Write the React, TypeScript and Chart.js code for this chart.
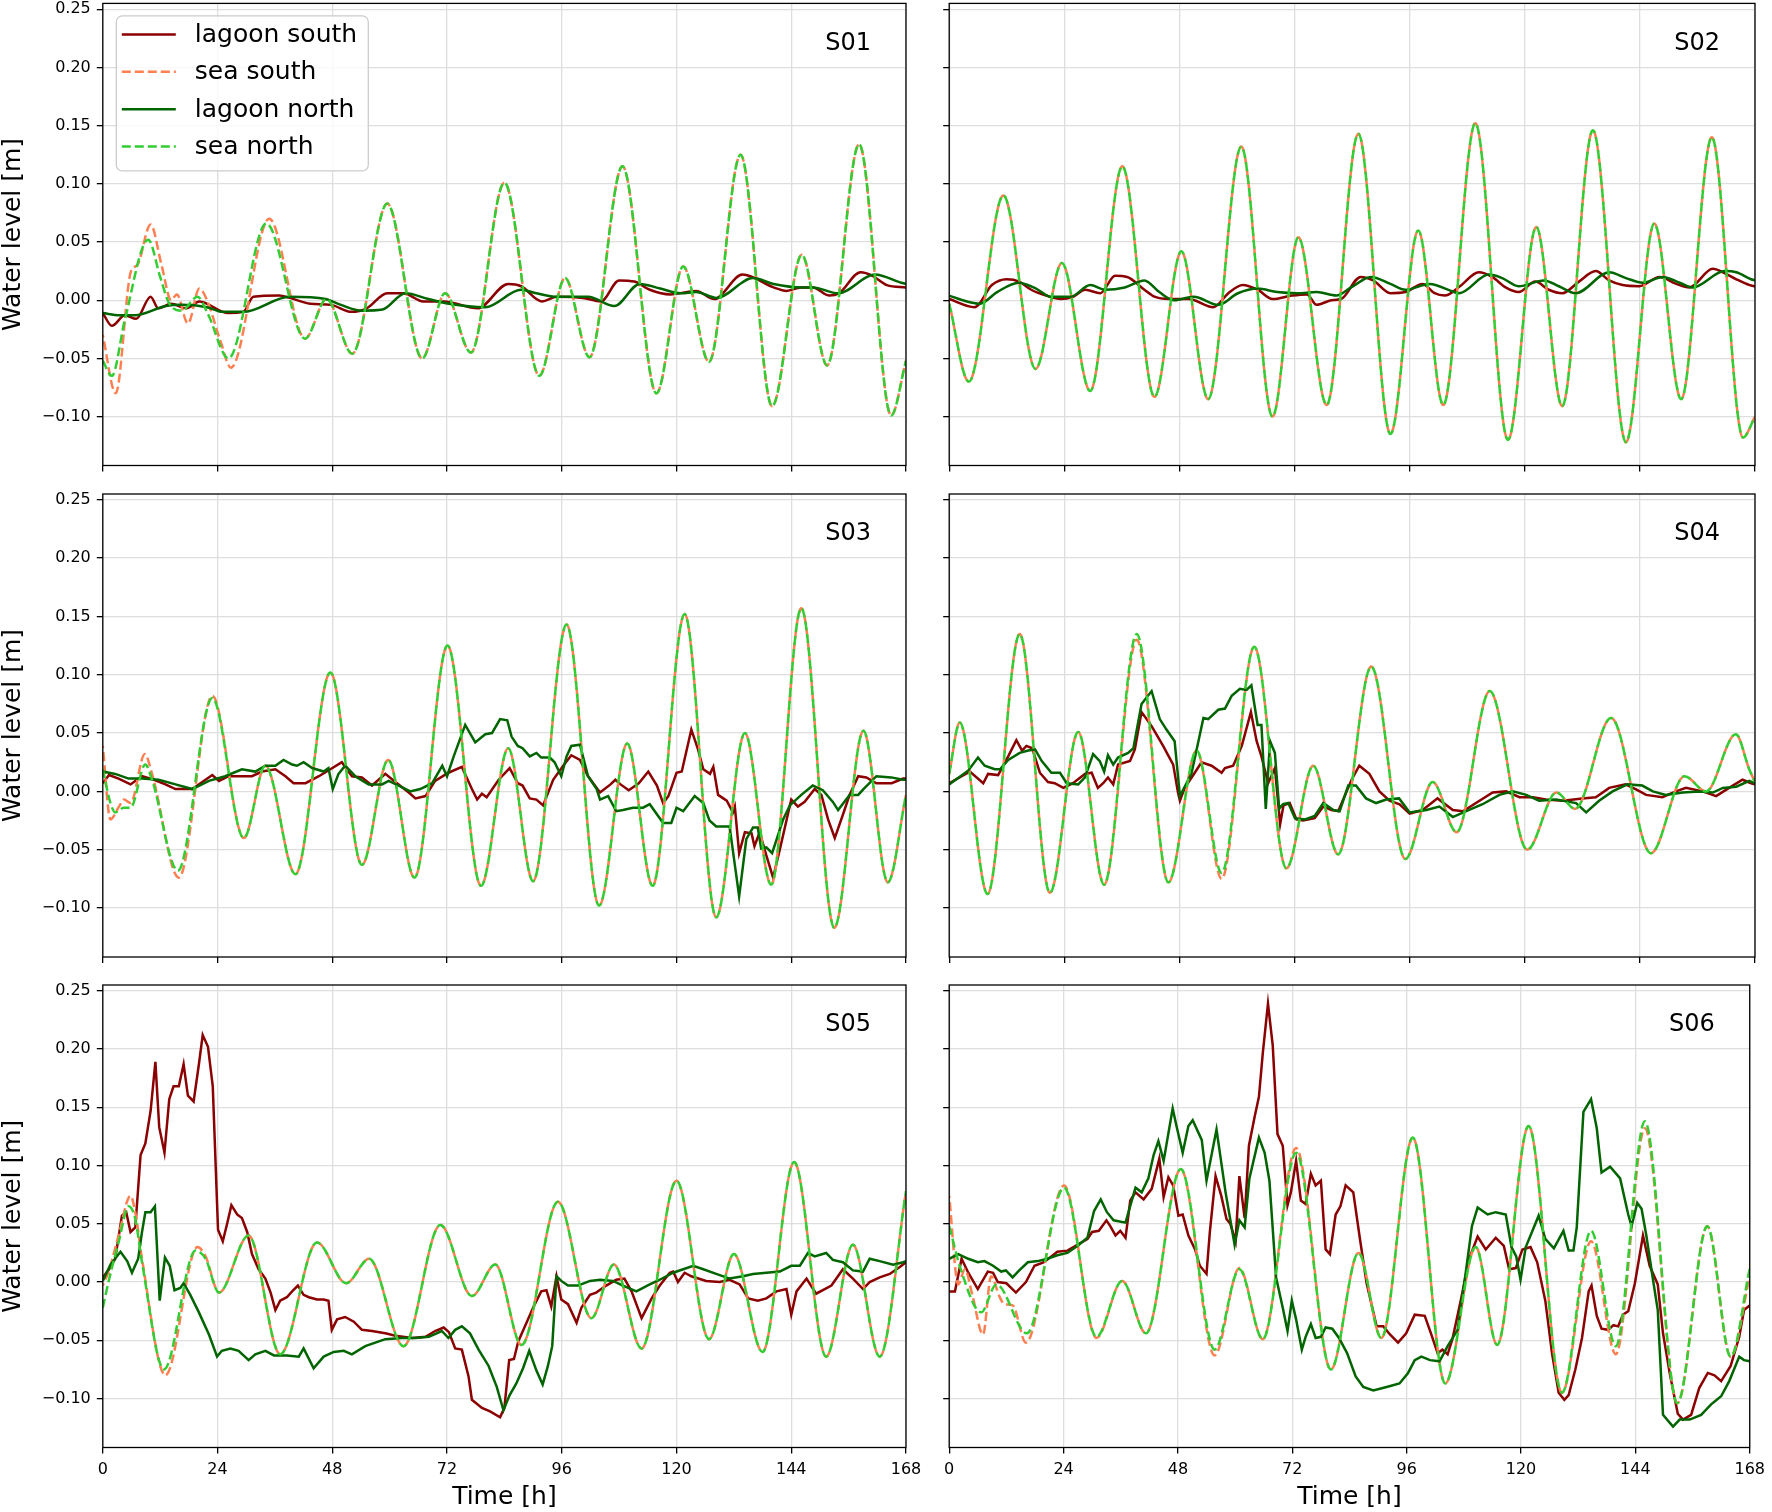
import { useEffect, useRef } from "react";
import { Chart, registerables } from "chart.js";

Chart.register(...registerables);

type Pt = [number, number]; // [hour, water level in m]

const hourTicks = [0, 24, 48, 72, 96, 120, 144, 168];
const levelTicks = [-0.1, -0.05, 0, 0.05, 0.1, 0.15, 0.2, 0.25];
const seriesLabels = ["lagoon south", "sea south", "lagoon north", "sea north"];

// ---- S01 ----
const s01LagoonSouth: Pt[] = [[0,-0.011],[1.9,-0.022],[4.6,-0.013],[7,-0.016],[10,0.003],[11.6,-0.007],[14.3,-0.003],[17.5,-0.007],[20.2,-0.001],[26.2,-0.011],[29.4,-0.01],[31.5,0.003],[36.9,0.004],[39.1,0.002],[43.4,-0.003],[47.7,-0.004],[52,-0.01],[55.2,-0.007],[59.5,0.006],[62.8,0.006],[67.1,-0.001],[71.4,-0.001],[78.4,-0.007],[84.8,0.014],[87.5,0.012],[91.8,-0.001],[95,0.003],[100.4,0.002],[104.2,-0.001],[108,0.017],[111.2,0.016],[114.4,0.009],[118.7,0.005],[124.1,0.008],[127.9,0.001],[133.8,0.022],[140.3,0.011],[143,0.008],[146,0.011],[148.5,0.011],[152,0.004],[154,0.006],[158.5,0.024],[161,0.021],[164,0.013],[168,0.011]];
const s01SeaSouth: Pt[] = [[0,-0.03],[2.7,-0.08],[5.9,0.025],[7.2,0.03],[10,0.065],[12.3,0.03],[14.3,0],[15.5,0.005],[17.8,-0.02],[20.2,0.01],[21.8,0],[24.6,-0.035],[26.8,-0.058],[34.8,0.07],[42.3,-0.033],[46.8,0.001],[52.2,-0.046],[59.5,0.083],[66.8,-0.05],[71.6,0.006],[77,-0.045],[84,0.101],[91.3,-0.065],[96.7,0.019],[101.8,-0.049],[108.7,0.115],[115.8,-0.08],[121.4,0.029],[126.8,-0.053],[133.4,0.125],[140,-0.091],[146.2,0.039],[151.5,-0.056],[158.2,0.134],[164.9,-0.099],[168,-0.052]];
const s01LagoonNorth: Pt[] = [[0,-0.011],[3.5,-0.013],[6.7,-0.013],[13.2,-0.005],[16.4,-0.004],[21.8,-0.006],[25,-0.01],[29.4,-0.01],[39.1,0.003],[46.6,0.001],[49.8,-0.004],[54.2,-0.009],[58.5,-0.008],[63.3,0.006],[68.1,0.001],[72.4,-0.003],[80,-0.006],[87.5,0.009],[90.7,0.006],[95,0.003],[101.5,0.003],[107,-0.005],[112.3,0.014],[116.6,0.01],[120.9,0.006],[124.1,0.007],[128.4,0.002],[136,0.019],[140.3,0.014],[146.2,0.011],[148.5,0.011],[153.8,0.006],[161.5,0.022],[167,0.015],[168,0.014]];
const s01SeaNorth: Pt[] = [[0,-0.052],[1.9,-0.065],[4.6,-0.017],[9.5,0.052],[12,0.02],[13.8,-0.002],[16.5,-0.009],[19.8,0.003],[22,-0.012],[26.3,-0.05],[34.2,0.066],[42.3,-0.033],[46.8,0.001],[52.2,-0.046],[59.5,0.083],[66.8,-0.05],[71.6,0.006],[77,-0.045],[84,0.101],[91.3,-0.065],[96.7,0.019],[101.8,-0.049],[108.7,0.115],[115.8,-0.08],[121.4,0.029],[126.8,-0.053],[133.4,0.125],[140,-0.091],[146.2,0.039],[151.5,-0.056],[158.2,0.134],[164.9,-0.099],[168,-0.052]];

// ---- S02 ----
const s02LagoonSouth: Pt[] = [[0,0.001],[5.3,-0.006],[8.9,0.013],[12,0.018],[14.6,0.016],[17.1,0.009],[20.2,0.004],[23.3,0.001],[25.8,0.003],[28.4,0.009],[31.5,0.006],[34.6,0.021],[37.1,0.02],[40.7,0.009],[42.8,0.003],[45.8,0.001],[49.9,0.001],[55.1,-0.006],[58.2,0.006],[61.2,0.013],[64.3,0.009],[67.4,0.001],[71.5,0.004],[74.6,0.005],[76.6,-0.004],[79.7,0],[81.7,0.001],[85.8,0.02],[88.4,0.017],[92,0.006],[95.1,0.007],[98.7,0.014],[101.2,0.006],[103.3,0.004],[106.5,0.012],[110.4,0.024],[113.2,0.02],[116,0.011],[118.7,0.007],[122.2,0.016],[125,0.009],[127.8,0.006],[131.3,0.016],[134.8,0.025],[137.6,0.017],[140.4,0.013],[143.9,0.012],[148.1,0.02],[151.6,0.014],[154.3,0.011],[159.2,0.027],[161.3,0.024],[164.1,0.018],[166.9,0.013],[168,0.012]];
const s02SeaSouth: Pt[] = [[0,-0.003],[4.1,-0.07],[11.3,0.09],[18,-0.059],[23.5,0.032],[29.4,-0.078],[36.1,0.115],[42.8,-0.083],[48.4,0.042],[54,-0.085],[60.9,0.132],[67.4,-0.1],[72.8,0.054],[78.7,-0.09],[85.3,0.143],[92,-0.115],[97.8,0.06],[103,-0.09],[109.7,0.152],[116.5,-0.12],[122.4,0.063],[127.8,-0.091],[134.2,0.146],[141.1,-0.122],[147,0.066],[152.6,-0.085],[159,0.14],[165.5,-0.118],[168,-0.1]];
const s02LagoonNorth: Pt[] = [[0,0.004],[2.8,0],[6.4,-0.003],[10,0.007],[14.5,0.015],[18.1,0.01],[21.2,0.003],[25.3,0.003],[29.4,0.013],[32.5,0.009],[36.6,0.011],[40.7,0.017],[43.8,0.007],[46.9,0],[51,0.003],[56.1,-0.004],[60.2,0.006],[64.3,0.01],[68.4,0.007],[72.5,0.006],[76.6,0.007],[80.7,0.004],[83.8,0.011],[87.9,0.02],[92,0.014],[95.1,0.009],[100.2,0.014],[104.6,0.008],[106.3,0.006],[112.5,0.022],[115.3,0.019],[118.7,0.012],[124,0.017],[127.1,0.012],[130.6,0.006],[137.6,0.024],[141.1,0.019],[144.6,0.015],[148.8,0.02],[152.3,0.015],[155,0.011],[161.7,0.025],[164.1,0.024],[167.2,0.018],[168,0.017]];
const s02SeaNorth: Pt[] = [[0,-0.003],[4.1,-0.07],[11.3,0.09],[18,-0.059],[23.5,0.032],[29.4,-0.078],[36.1,0.115],[42.8,-0.083],[48.4,0.042],[54,-0.085],[60.9,0.132],[67.4,-0.1],[72.8,0.054],[78.7,-0.09],[85.3,0.143],[92,-0.115],[97.8,0.06],[103,-0.09],[109.7,0.152],[116.5,-0.12],[122.4,0.063],[127.8,-0.091],[134.2,0.146],[141.1,-0.122],[147,0.066],[152.6,-0.085],[159,0.14],[165.5,-0.118],[168,-0.1]];

// ---- S03 ----
const s03LagoonSouth: Pt[] = [[0,0.007],[1.3,0.014],[3.3,0.011],[5.8,0.006],[8.2,0.013],[10.7,0.01],[13.1,0.006],[15.2,0.002],[18.7,0.002],[22.9,0.014],[24.3,0.009],[26.3,0.013],[29.1,0.013],[31.2,0.013],[33.3,0.017],[36.1,0.019],[38.2,0.013],[39.9,0.007],[42.4,0.007],[45.2,0.013],[47.6,0.019],[50,0.025],[52.1,0.013],[54.2,0.012],[56.3,0.005],[59.1,0.015],[61.2,0.008],[64,-0.001],[65.4,-0.006],[67.5,-0.004],[69.5,0.009],[72.3,0.016],[75.1,0.021],[77.2,0.002],[78.3,-0.007],[79.3,-0.002],[80.3,-0.005],[82.8,0.01],[85.1,0.02],[86.8,0.007],[87.8,0.005],[89.3,-0.006],[90.7,-0.007],[92.1,-0.012],[94.2,0.01],[96.3,0.022],[98,0.031],[99.8,0.027],[101.5,0.013],[104,-0.001],[106.2,0.006],[107.2,0.01],[108.3,0.006],[110,0.001],[112.1,0.007],[114.1,0.017],[115.9,0.005],[117.2,-0.01],[118.3,-0.004],[120,0.016],[121.1,0.017],[123.1,0.053],[124.5,0.036],[125.6,0.019],[127,0.015],[127.7,0.021],[128.7,-0.003],[130.5,-0.008],[131.8,-0.018],[132.2,-0.013],[133.1,-0.053],[134.3,-0.035],[135.7,-0.036],[136.3,-0.047],[137.4,-0.035],[138.8,-0.055],[140.2,-0.074],[141.6,-0.05],[144,-0.007],[145.4,-0.013],[146.8,-0.009],[148.9,0.002],[150.3,-0.003],[151.7,-0.024],[153.1,-0.04],[154.8,-0.02],[156.2,-0.003],[158,0.013],[159.7,0.012],[161.8,0.007],[165,0.007],[167.4,0.011],[168,0.011]];
const s03SeaSouth: Pt[] = [[0,0.039],[1.6,-0.024],[3.4,-0.013],[4.4,-0.007],[5.8,-0.01],[8.8,0.032],[10.3,0.015],[15.9,-0.074],[22.9,0.082],[29.5,-0.04],[34,0.022],[40.3,-0.071],[47.6,0.102],[54.2,-0.063],[59.7,0.027],[65.2,-0.074],[72.1,0.125],[79.1,-0.081],[84.8,0.037],[90,-0.077],[97,0.143],[103.8,-0.098],[109.7,0.041],[115,-0.081],[121.7,0.152],[128.3,-0.108],[134.3,0.05],[139.8,-0.08],[146.1,0.157],[153,-0.117],[159.1,0.052],[164.2,-0.078],[168,-0.003]];
const s03LagoonNorth: Pt[] = [[0,0.017],[2.6,0.015],[5.4,0.011],[8.2,0.011],[11.7,0.01],[15.2,0.006],[18.7,0.002],[22.2,0.009],[25.6,0.013],[29.1,0.019],[31.9,0.017],[34,0.022],[36.1,0.022],[37.8,0.027],[39.6,0.023],[40.6,0.022],[42,0.025],[43.8,0.02],[46.2,0.017],[47.2,0.02],[48.1,0.002],[49.3,0.015],[50.7,0.022],[52.8,0.013],[55.6,0.006],[58.4,0.006],[59.8,0.009],[61.9,0.005],[64.3,0],[66.4,0.002],[68.9,0.007],[71,0.022],[72,0.013],[73.4,0.03],[75.8,0.057],[77.9,0.042],[80,0.049],[81.4,0.05],[83.1,0.062],[84.6,0.061],[85.5,0.047],[86.8,0.039],[87.8,0.037],[89.3,0.03],[90.7,0.033],[91.7,0.029],[93.5,0.029],[94.5,0.025],[95.9,0.013],[97,0.03],[98,0.039],[99.8,0.04],[101.5,0.013],[103.3,0.002],[104,-0.007],[105.7,-0.004],[107.4,-0.017],[108.8,-0.016],[110.9,-0.014],[113,-0.014],[114.4,-0.011],[117.2,-0.027],[118.9,-0.027],[120,-0.014],[121.4,-0.017],[123.8,-0.004],[125.6,-0.01],[126.9,-0.025],[128.3,-0.03],[131.1,-0.03],[133.1,-0.09],[134.6,-0.041],[136,-0.031],[137,-0.031],[137.7,-0.049],[138.8,-0.048],[140,-0.053],[142.3,-0.024],[143.7,-0.012],[146.1,-0.003],[148.5,0.005],[150.6,0.001],[152.7,-0.009],[153.8,-0.016],[156.2,-0.003],[158,-0.003],[159.1,0.002],[161.8,0.013],[164.9,0.012],[167.4,0.01],[168,0.01]];
const s03SeaNorth: Pt[] = [[0,0.019],[1.6,-0.01],[2.6,-0.018],[4.4,-0.014],[5.8,-0.014],[8.9,0.023],[10.3,0.01],[15.7,-0.068],[22.9,0.08],[29.5,-0.04],[34,0.022],[40.3,-0.071],[47.6,0.102],[54.2,-0.063],[59.7,0.027],[65.2,-0.074],[72.1,0.125],[79.1,-0.081],[84.8,0.037],[90,-0.077],[97,0.143],[103.8,-0.098],[109.7,0.041],[115,-0.081],[121.7,0.152],[128.3,-0.108],[134.3,0.05],[139.8,-0.08],[146.1,0.157],[153,-0.117],[159.1,0.052],[164.2,-0.078],[168,-0.003]];

// ---- S04 ----
const s04LagoonSouth: Pt[] = [[0,0.007],[4.3,0.017],[7.1,0.007],[8.1,0.015],[10.2,0.014],[12.3,0.03],[14,0.044],[15.2,0.035],[16.1,0.039],[17.3,0.037],[18.9,0.016],[20.6,0.008],[22,0.007],[23.8,0.003],[25.8,0.007],[28.3,0.015],[29.7,0.016],[31,0.003],[32.1,0.007],[33.1,0.012],[34.2,0.006],[35.2,0.023],[37.7,0.026],[38.7,0.036],[40.1,0.068],[42.2,0.056],[44.6,0.039],[46.7,0.023],[47.7,-0.001],[48.1,-0.008],[49.1,0.003],[51.2,0.016],[52.6,0.025],[54.7,0.022],[56.8,0.016],[57.5,0.02],[59.2,0.022],[61,0.039],[62.9,0.068],[64.1,0.043],[65.1,0.03],[66.5,0.007],[67.9,0.02],[69,-0.028],[69.7,-0.012],[71,-0.01],[72.4,-0.024],[73.8,-0.025],[76.2,-0.023],[78,-0.013],[79.7,-0.016],[81.1,-0.017],[83.9,0.01],[85.5,0.022],[87.6,0.015],[89.7,0],[91.8,-0.008],[93.9,-0.011],[96,-0.019],[98.7,-0.016],[101.8,-0.006],[105,-0.016],[107.1,-0.017],[113.3,-0.001],[116.1,0],[118.9,-0.005],[121.7,-0.005],[124.4,-0.007],[127.9,-0.008],[132,-0.006],[134.8,-0.005],[137.6,0.003],[141,0.006],[143.1,0.002],[145.3,-0.003],[148.7,-0.005],[151.5,0],[153.6,0.003],[157.1,0],[159.9,-0.004],[162.6,0.003],[165.4,0.01],[167.2,0.007],[168,0.006]];
const s04SeaSouth: Pt[] = [[0,0.015],[2.2,0.059],[8,-0.088],[14.7,0.135],[21,-0.087],[26.9,0.051],[32.3,-0.08],[39.1,0.13],[45.7,-0.078],[51.6,0.035],[56.8,-0.075],[63.6,0.124],[70.3,-0.066],[75.9,0.022],[81.1,-0.054],[88,0.107],[95.1,-0.058],[100.8,0.008],[105.8,-0.035],[112.7,0.086],[120.5,-0.05],[126.6,-0.001],[130.5,-0.015],[138,0.063],[146.3,-0.053],[153.3,0.013],[157.8,0],[164,0.049],[166.8,0.019],[168,0.008]];
const s04LagoonNorth: Pt[] = [[0,0.006],[4,0.018],[6,0.029],[7.4,0.022],[9.5,0.019],[10.6,0.019],[12.3,0.027],[14.7,0.033],[16.5,0.035],[17.9,0.036],[19.3,0.026],[21.3,0.016],[23.1,0.016],[24.5,0.007],[26.9,0.006],[28.3,0.012],[30,0.032],[31.4,0.026],[32.3,0.017],[33.1,0.031],[34.2,0.023],[35.2,0.029],[37.3,0.033],[38.4,0.037],[40.1,0.075],[42.2,0.086],[43.9,0.062],[45.3,0.053],[47,0.043],[48.1,-0.004],[50.5,0.015],[53,0.063],[54,0.062],[56.1,0.07],[57.5,0.071],[58.9,0.082],[60.6,0.088],[62,0.087],[63,0.091],[64.3,0.057],[65.1,0.057],[66,-0.015],[66.9,0.043],[67.9,0.033],[68.8,-0.015],[69.6,-0.011],[70.7,-0.01],[72.1,-0.023],[74.2,-0.024],[76.2,-0.021],[78,-0.01],[80.1,-0.016],[81.4,-0.017],[83.2,0.005],[84.8,0.005],[86.9,-0.006],[89,-0.01],[91.1,-0.007],[93.8,-0.006],[96,-0.018],[99.5,-0.016],[102.2,-0.013],[105,-0.022],[107.8,-0.017],[111.2,-0.011],[114.7,-0.003],[117.5,0],[120.3,-0.003],[123,-0.008],[126.5,-0.007],[130.7,-0.01],[132.8,-0.018],[135.5,-0.008],[138.3,0],[141.4,0.006],[144.5,0.005],[146.7,0],[149.4,-0.003],[152.9,-0.001],[156.4,0],[159.2,-0.001],[161.3,0.003],[164.1,0.004],[166.8,0.009],[168,0.007]];
const s04SeaNorth: Pt[] = [[0,0.015],[2.2,0.059],[8,-0.088],[14.7,0.135],[21,-0.087],[26.9,0.051],[32.3,-0.08],[39.1,0.135],[45.7,-0.078],[51.6,0.035],[56.8,-0.07],[63.6,0.124],[70.3,-0.066],[75.9,0.022],[81.1,-0.054],[88,0.107],[95.1,-0.058],[100.8,0.008],[105.8,-0.035],[112.7,0.086],[120.5,-0.05],[126.6,-0.001],[130.5,-0.015],[138,0.063],[146.3,-0.053],[153.3,0.013],[157.8,0],[164,0.049],[166.8,0.019],[168,0.008]];

// ---- S05 ----
const s05LagoonSouth: Pt[] = [[0,0.004],[1.3,0.011],[2.6,0.02],[4,0.057],[4.9,0.06],[5.8,0.043],[6.8,0.047],[7.9,0.109],[8.9,0.119],[10,0.147],[11,0.189],[11.8,0.133],[12.9,0.111],[13.9,0.157],[14.8,0.168],[15.9,0.168],[16.9,0.187],[17.8,0.16],[19,0.155],[20.1,0.187],[20.9,0.212],[22,0.202],[23,0.168],[24.1,0.045],[25.1,0.035],[26,0.05],[26.9,0.066],[28.1,0.058],[29.1,0.055],[30.2,0.043],[31.2,0.024],[32.6,0.011],[34,0.003],[35.1,-0.009],[36.1,-0.024],[37.1,-0.016],[38.5,-0.013],[39.6,-0.008],[40.8,-0.003],[42,-0.011],[43.1,-0.013],[44.8,-0.015],[46.2,-0.015],[47.2,-0.016],[47.9,-0.041],[49,-0.032],[50.7,-0.03],[52.5,-0.034],[54.2,-0.041],[56.3,-0.042],[59.1,-0.044],[61.2,-0.046],[64.7,-0.048],[67.5,-0.047],[69.5,-0.042],[71.3,-0.039],[72.4,-0.043],[73.7,-0.057],[75.1,-0.058],[76.5,-0.081],[77.2,-0.101],[79.3,-0.108],[81,-0.111],[83.1,-0.116],[84,-0.108],[85,-0.067],[86,-0.066],[86.9,-0.051],[88.3,-0.038],[90,-0.022],[91.7,-0.008],[92.8,-0.007],[93.8,-0.021],[94.9,0.005],[95.9,-0.015],[97.3,-0.019],[99.1,-0.035],[100.1,-0.022],[101.9,-0.011],[103.2,-0.009],[105.3,-0.003],[107.4,0.002],[109.1,0.003],[110.6,-0.008],[112.7,-0.031],[114.8,-0.014],[116.5,-0.003],[118.6,0.008],[119.3,0.009],[120.3,0],[121.7,0.008],[123.1,0.005],[126.2,0.001],[129,0],[131.1,0.002],[133.2,-0.002],[135,-0.014],[137,-0.016],[138.8,-0.014],[140.9,-0.008],[143,-0.006],[144,-0.028],[145.1,-0.008],[147.2,0.003],[149.2,-0.01],[151,-0.006],[152.4,-0.003],[154.8,0.011],[156.9,0.003],[159,-0.006],[160.4,0],[162.5,0.004],[164.6,0.007],[166.7,0.013],[168,0.017]];
const s05SeaSouth: Pt[] = [[0,-0.003],[1.3,0.01],[3.3,0.04],[5.8,0.074],[7,0.055],[8.2,0.02],[13.1,-0.08],[19.8,0.03],[21.5,0.022],[24.3,-0.009],[30.5,0.04],[37.1,-0.062],[44.8,0.034],[50.9,-0.001],[55.7,0.02],[62.9,-0.055],[70.6,0.049],[77.2,-0.012],[82.1,0.015],[87.6,-0.054],[95.2,0.069],[102.2,-0.031],[106.9,0.015],[112.7,-0.057],[120,0.087],[126.8,-0.049],[132,0.024],[138,-0.06],[144.6,0.103],[151.3,-0.064],[156.9,0.032],[162.5,-0.064],[168,0.078]];
const s05LagoonNorth: Pt[] = [[0,0.001],[1.6,0.015],[3.7,0.026],[5.1,0.018],[6.1,0.008],[7.4,0.02],[8.2,0.043],[8.9,0.06],[10,0.06],[10.9,0.065],[11.9,-0.016],[13,0.021],[14,0.014],[15,-0.007],[16.2,-0.005],[16.9,-0.001],[18.3,-0.011],[20.1,-0.026],[22.2,-0.045],[23.9,-0.064],[24.9,-0.059],[26.7,-0.057],[28.4,-0.059],[30.5,-0.067],[31.9,-0.062],[34,-0.059],[35.8,-0.063],[38.5,-0.063],[41,-0.064],[42,-0.057],[44.1,-0.074],[46.2,-0.064],[48.3,-0.06],[50.4,-0.059],[52.1,-0.062],[54.9,-0.055],[57,-0.052],[59.1,-0.049],[62.6,-0.048],[65.4,-0.048],[68.2,-0.047],[70.9,-0.042],[72.3,-0.048],[73.7,-0.041],[75.1,-0.038],[76.8,-0.044],[78.6,-0.058],[80.7,-0.072],[82.4,-0.09],[83.8,-0.11],[85.1,-0.097],[86.5,-0.087],[87.9,-0.074],[89.2,-0.059],[90.7,-0.076],[92,-0.088],[93.1,-0.072],[94,-0.055],[94.9,0.005],[95.9,0.001],[97.3,-0.003],[99.4,-0.003],[101.9,0.001],[104,0.002],[106.7,0.001],[108.8,-0.003],[111.6,-0.008],[114.4,-0.002],[116.5,0.002],[119.3,0.008],[121.4,0.011],[123.5,0.014],[125.6,0.011],[128.3,0.007],[131.1,0.003],[133.9,0.005],[136,0.007],[138.8,0.008],[141.6,0.009],[144,0.014],[145.8,0.014],[147.5,0.025],[148.9,0.022],[151.3,0.025],[152.7,0.019],[154.8,0.017],[156.9,0.01],[159,0.009],[160.4,0.02],[162.5,0.018],[165.3,0.015],[167.4,0.017],[168,0.018]];
const s05SeaNorth: Pt[] = [[0,-0.022],[1.3,0.002],[3.3,0.034],[5.4,0.065],[6.8,0.054],[8.2,0.017],[12.8,-0.075],[19.4,0.027],[21.5,0.02],[24.3,-0.009],[30.5,0.04],[37.1,-0.062],[44.8,0.034],[50.9,-0.001],[55.7,0.02],[62.9,-0.055],[70.6,0.049],[77.2,-0.012],[82.1,0.015],[87.6,-0.054],[95.2,0.069],[102.2,-0.031],[106.9,0.015],[112.7,-0.057],[120,0.087],[126.8,-0.049],[132,0.024],[138,-0.06],[144.6,0.103],[151.3,-0.064],[156.9,0.032],[162.5,-0.064],[168,0.078]];

// ---- S06 ----
const s06LagoonSouth: Pt[] = [[0,-0.008],[1.2,-0.008],[2.6,0.02],[4,0.008],[6,-0.006],[8.1,0.009],[9.2,0.008],[10.2,0],[12,-0.001],[14,-0.009],[16.1,0],[17.9,0.014],[19.9,0.017],[22.7,0.026],[24.8,0.027],[26.9,0.032],[29,0.037],[30,0.043],[31.4,0.044],[33,0.053],[33.8,0.048],[34.9,0.04],[35.9,0.044],[37,0.038],[38,0.07],[39.1,0.077],[40.8,0.071],[42.5,0.08],[44.1,0.106],[45,0.073],[46,0.09],[47,0.083],[48.1,0.057],[49,0.058],[50.2,0.04],[51.6,0.028],[52.6,0.014],[54,0.007],[54.7,0.043],[55.9,0.091],[57.1,0.074],[58.2,0.054],[59,0.05],[60.1,0.035],[60.9,0.091],[62,0.055],[62.9,0.117],[64.1,0.142],[65,0.159],[65.8,0.196],[66.9,0.239],[67.9,0.203],[68.9,0.127],[70,0.117],[71,0.066],[71.7,0.077],[72.8,0.104],[73.8,0.07],[74.8,0.067],[75.9,0.093],[76.9,0.083],[78,0.087],[79,0.028],[79.9,0.024],[81.1,0.058],[82.1,0.065],[83.2,0.083],[84.8,0.077],[86.2,0.037],[87.6,-0.001],[89.7,-0.038],[91.1,-0.038],[92.5,-0.045],[94.2,-0.052],[95.9,-0.044],[97.7,-0.028],[99.8,-0.029],[101.1,-0.044],[102.5,-0.061],[103.5,-0.058],[104.6,-0.062],[105.6,-0.049],[107.4,-0.015],[109.1,0.02],[110.9,0.039],[112.6,0.028],[114.7,0.038],[116.4,0.031],[117.5,0.011],[118.9,0.012],[120.3,0.028],[122,0.03],[123.4,0.017],[125.1,-0.016],[126.5,-0.061],[127.9,-0.095],[129.1,-0.101],[130,-0.097],[131.4,-0.075],[132.8,-0.048],[134.2,-0.008],[134.8,-0.003],[135.9,-0.029],[136.9,-0.04],[138.3,-0.041],[139.4,-0.037],[140.4,-0.038],[141.4,-0.028],[142.5,-0.025],[143.9,-0.001],[145.6,0.04],[147,0.014],[148.7,-0.002],[149.8,-0.044],[151.2,-0.078],[152.9,-0.113],[154,-0.118],[155.7,-0.114],[157.4,-0.091],[159.2,-0.078],[160.6,-0.08],[162,-0.085],[164,-0.072],[165.8,-0.047],[166.8,-0.024],[168,-0.02]];
const s06SeaSouth: Pt[] = [[0,0.074],[1.9,-0.002],[3.3,0.011],[4.8,-0.01],[7.1,-0.045],[8.8,0.005],[10.5,-0.012],[11.6,-0.019],[13.3,-0.02],[16.1,-0.052],[24.1,0.083],[30.9,-0.048],[36.3,0.001],[41.3,-0.044],[48.6,0.097],[55.7,-0.063],[60.9,0.012],[65.8,-0.049],[72.8,0.115],[80.1,-0.075],[85.9,0.025],[90.7,-0.048],[97.3,0.124],[104.1,-0.087],[110.5,0.03],[115,-0.054],[121.6,0.134],[128.6,-0.095],[134.7,0.035],[139.9,-0.062],[146,0.132],[152.8,-0.104],[159.1,0.048],[164,-0.064],[168,0.005]];
const s06LagoonNorth: Pt[] = [[0,0.02],[1.9,0.024],[4,0.02],[6,0.017],[7.4,0.018],[9.2,0.014],[10.9,0.009],[11.9,0.01],[13.3,0.004],[14.7,0.01],[16.5,0.017],[18.6,0.018],[20.6,0.02],[22.7,0.023],[24.8,0.025],[26.9,0.031],[29,0.038],[30.4,0.061],[31.8,0.071],[33.1,0.06],[34.5,0.053],[37,0.051],[39.1,0.081],[40.4,0.077],[41.8,0.089],[42.9,0.109],[43.9,0.121],[45,0.104],[46.9,0.149],[47.7,0.134],[49,0.111],[50.2,0.134],[51.1,0.139],[53,0.122],[54,0.087],[56.1,0.131],[58,0.077],[59.9,0.032],[60.9,0.053],[62,0.047],[63,0.089],[65,0.124],[66.2,0.111],[67.2,0.087],[68.6,0.004],[70,-0.022],[71,-0.042],[71.9,-0.016],[72.8,-0.032],[74,-0.058],[74.8,-0.047],[75.9,-0.036],[76.9,-0.048],[78,-0.047],[79,-0.039],[80.4,-0.04],[81.8,-0.048],[83.5,-0.061],[85.3,-0.081],[86.9,-0.09],[89,-0.093],[91.8,-0.09],[94.5,-0.087],[96.3,-0.078],[97.7,-0.067],[99.1,-0.064],[100.9,-0.067],[102.9,-0.068],[104.6,-0.055],[106.7,-0.041],[108.4,0.008],[109.7,0.048],[110.9,0.064],[113,0.058],[114.7,0.06],[116.8,0.058],[118,0.03],[119,0.022],[119.9,0.002],[121,0.03],[122.3,0.043],[123.7,0.057],[125.1,0.037],[126.9,0.029],[128.9,0.044],[130,0.027],[131,0.027],[131.7,0.047],[133.1,0.146],[134.7,0.157],[135.9,0.132],[136.9,0.094],[138.7,0.099],[140.8,0.089],[142.5,0.058],[143.2,0.048],[144.4,0.068],[145.3,0.063],[146.3,0.04],[147.7,0.002],[148.7,-0.024],[149.8,-0.114],[151.9,-0.124],[153.3,-0.118],[155.4,-0.118],[157.8,-0.114],[159.9,-0.105],[162,-0.098],[163.7,-0.085],[165.8,-0.064],[166.8,-0.067],[168,-0.068]];
const s06SeaNorth: Pt[] = [[0,0.048],[2.5,0.01],[6.7,-0.026],[9.9,-0.002],[16.3,-0.044],[24.1,0.081],[30.9,-0.047],[36.3,0.001],[41.3,-0.044],[48.6,0.097],[55.7,-0.058],[60.9,0.011],[65.8,-0.049],[72.8,0.111],[80.1,-0.075],[85.9,0.025],[90.7,-0.048],[97.3,0.124],[104.1,-0.087],[110.5,0.03],[115,-0.054],[121.6,0.134],[128.6,-0.095],[134.7,0.044],[139.9,-0.055],[146,0.138],[152.8,-0.104],[159.1,0.048],[164,-0.064],[168,0.012]];

const panels = [
  { name: "S01", col: 0, row: 0, legend: true, smoothLagoon: true, series: [s01LagoonSouth, s01SeaSouth, s01LagoonNorth, s01SeaNorth] },
  { name: "S02", col: 1, row: 0, legend: false, smoothLagoon: true, series: [s02LagoonSouth, s02SeaSouth, s02LagoonNorth, s02SeaNorth] },
  { name: "S03", col: 0, row: 1, legend: false, smoothLagoon: false, series: [s03LagoonSouth, s03SeaSouth, s03LagoonNorth, s03SeaNorth] },
  { name: "S04", col: 1, row: 1, legend: false, smoothLagoon: false, series: [s04LagoonSouth, s04SeaSouth, s04LagoonNorth, s04SeaNorth] },
  { name: "S05", col: 0, row: 2, legend: false, smoothLagoon: false, series: [s05LagoonSouth, s05SeaSouth, s05LagoonNorth, s05SeaNorth] },
  { name: "S06", col: 1, row: 2, legend: false, smoothLagoon: false, series: [s06LagoonSouth, s06SeaSouth, s06LagoonNorth, s06SeaNorth] },
];

// styles
const FONT = "'DejaVu Sans', sans-serif";
const COLORS = ["#8b0000", "#ff7f50", "#006400", "#32cd32"];
const DASH = [9, 4];
const GRID = "#dedede";

// layout (page px): canvas box + where the plot area sits inside it
const COLS = [
  { x: 0, w: 936, axisW: 102.8, padRight: 30 },
  { x: 927, w: 845, axisW: 22.2, padRight: 17 },
];
const ROWS = [
  { y: -20, h: 506, padTop: 23.4, axisH: 20.5 },
  { y: 474, h: 505, padTop: 20, axisH: 22 },
  { y: 965, h: 547, padTop: 20, axisH: 64.5 },
];

const fmtLevel = (v: number) => v.toFixed(2).replace("-", "\u2212");

type PanelProps = { name: string; col: number; row: number; legend: boolean; smoothLagoon: boolean; series: Pt[][] };

function Panel({ name, col, row, legend, smoothLagoon, series }: PanelProps) {
  const canvasRef = useRef<HTMLCanvasElement>(null);
  const c = COLS[col];
  const r = ROWS[row];

  useEffect(() => {
    if (!canvasRef.current) return;
    const ctx = canvasRef.current.getContext("2d");
    if (!ctx) return;

    // frame, station name and (on S01) the legend box
    const overlay = {
      id: "panelOverlay",
      afterDraw(chart: Chart) {
        const g = chart.ctx;
        const a = chart.chartArea;
        g.save();
        g.strokeStyle = "#000";
        g.lineWidth = 1.3;
        g.setLineDash([]);
        g.strokeRect(a.left, a.top, a.right - a.left, a.bottom - a.top);
        g.fillStyle = "#000";
        g.font = `24px ${FONT}`;
        g.textAlign = "right";
        g.textBaseline = "middle";
        g.fillText(name, a.right - 35, a.top + 40);

        if (legend) {
          const bx = a.left + 13.5;
          const by = a.top + 12.5;
          const bw = 252;
          const bh = 155;
          g.beginPath();
          g.roundRect(bx, by, bw, bh, 6);
          g.fillStyle = "rgba(255,255,255,0.8)";
          g.fill();
          g.strokeStyle = "#cccccc";
          g.lineWidth = 1.3;
          g.stroke();
          g.font = `25px ${FONT}`;
          g.textAlign = "left";
          g.textBaseline = "middle";
          seriesLabels.forEach((label, i) => {
            const y = by + 18.5 + i * 37.4;
            g.beginPath();
            g.strokeStyle = COLORS[i];
            g.lineWidth = 2.5;
            g.setLineDash(i % 2 === 1 ? DASH : []);
            g.moveTo(bx + 5.5, y);
            g.lineTo(bx + 59.5, y);
            g.stroke();
            g.setLineDash([]);
            g.fillStyle = "#000";
            g.fillText(label, bx + 78.5, y + 1);
          });
        }
        g.restore();
      },
    };

    const chart = new Chart(ctx, {
      type: "line",
      data: {
        datasets: series.map((pts, i) => {
          const isSea = i % 2 === 1;
          return {
            label: seriesLabels[i],
            data: pts.map(([x, y]) => ({ x, y })),
            borderColor: COLORS[i],
            backgroundColor: COLORS[i],
            borderWidth: 2.5,
            borderDash: isSea ? DASH : [],
            borderDashOffset: i === 1 ? 6.5 : 0,
            pointRadius: 0,
            tension: 0,
            cubicInterpolationMode: isSea || smoothLagoon ? "monotone" : "default",
            fill: false,
            order: 3 - i,
          };
        }),
      },
      options: {
        animation: false,
        responsive: false,
        events: [],
        layout: { padding: { left: 0, top: r.padTop, right: c.padRight, bottom: 0 } },
        plugins: { legend: { display: false }, tooltip: { enabled: false } },
        scales: {
          x: {
            type: "linear",
            min: 0,
            max: 168,
            afterBuildTicks: (s: any) => {
              s.ticks = hourTicks.map((v) => ({ value: v }));
            },
            afterFit: (s: any) => {
              s.height = r.axisH;
            },
            border: { display: false },
            grid: { color: GRID, lineWidth: 1.3, tickColor: "#000", tickWidth: 1.3, tickLength: 6 },
            ticks: {
              display: row === 2,
              autoSkip: false,
              maxRotation: 0,
              padding: 7,
              color: "#000",
              font: { family: FONT, size: 16 },
              callback: (v: any) => String(v),
            },
            title: {
              display: row === 2,
              text: "Time [h]",
              color: "#000",
              font: { family: FONT, size: 25, lineHeight: 1.2 },
              padding: { top: 0, bottom: 0 },
            },
          },
          y: {
            type: "linear",
            min: -0.142,
            max: 0.255,
            afterBuildTicks: (s: any) => {
              s.ticks = levelTicks.map((v) => ({ value: v }));
            },
            afterFit: (s: any) => {
              s.width = c.axisW;
            },
            border: { display: false },
            grid: { color: GRID, lineWidth: 1.3, tickColor: "#000", tickWidth: 1.3, tickLength: 6 },
            ticks: {
              display: col === 0,
              padding: 6,
              color: "#000",
              font: { family: FONT, size: 16 },
              callback: (v: any) => fmtLevel(Number(v)),
            },
            title: {
              display: col === 0,
              text: "Water level [m]",
              color: "#000",
              font: { family: FONT, size: 25, lineHeight: 1 },
              padding: { top: 1, bottom: 0 },
            },
          },
        },
      },
      plugins: [overlay],
    } as any);

    return () => {
      chart.destroy();
    };
  }, []);

  return (
    <canvas
      ref={canvasRef}
      width={c.w}
      height={r.h}
      style={{ position: "absolute", left: c.x, top: r.y, width: c.w, height: r.h }}
    ></canvas>
  );
}

export default function App() {
  return (
    <div style={{ position: "absolute", left: 0, top: 0, width: 1772, height: 1512, background: "#fff", overflow: "hidden" }}>
      {panels.map((p) => (
        <Panel key={p.name} {...p} />
      ))}
    </div>
  );
}
